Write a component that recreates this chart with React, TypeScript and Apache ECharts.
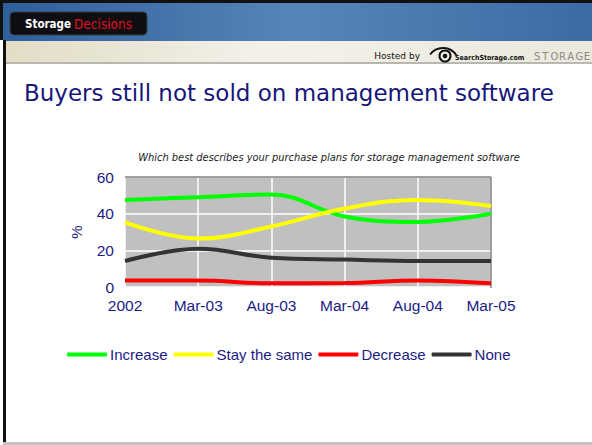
import React, { useEffect, useRef } from "react";
import * as echarts from "echarts";

const categories = ["2002", "Mar-03", "Aug-03", "Mar-04", "Aug-04", "Mar-05"];
const increase = [47.5, 49, 50.5, 38.5, 35.5, 40];
const staySame = [35.3, 26.4, 33, 42.8, 47.5, 44.2];
const decrease = [3.5, 3.5, 2, 2.2, 3.6, 2];
const none = [14.2, 20.8, 16, 15, 14.2, 14.2];
const yTicks = { min: 0, max: 60, interval: 20 };

const NAVY = "#1c1c84";

export default function App() {
  const ref = useRef<HTMLDivElement>(null);
  useEffect(() => {
    document.body.style.margin = "0";
    const chart = echarts.init(ref.current!, null, { renderer: "svg" });
    const storageLetters = "STORAGE".split("");
    const option: any = {
      animation: false,
      backgroundColor: "#ffffff",
      textStyle: { fontFamily: "Liberation Sans, Arial, sans-serif" },
      grid: {
        left: 125,
        top: 177,
        width: 366,
        height: 110,
        show: true,
        backgroundColor: "#c0c0c0",
        borderWidth: 0,
      },
      xAxis: {
        type: "category",
        data: categories,
        boundaryGap: false,
        axisLine: { show: false },
        axisTick: { show: false },
        axisLabel: { color: NAVY, fontSize: 15.5, margin: 10 },
        splitLine: { show: true, lineStyle: { color: "#ffffff", width: 1.5 } },
      },
      yAxis: {
        type: "value",
        min: yTicks.min,
        max: yTicks.max,
        interval: yTicks.interval,
        name: "%",
        nameLocation: "middle",
        nameGap: 41,
        nameRotate: 90,
        nameTextStyle: { color: NAVY, fontSize: 15 },
        axisLine: { show: false },
        axisTick: { show: false },
        axisLabel: { color: NAVY, fontSize: 15.5, margin: 11 },
        splitLine: { show: true, lineStyle: { color: "#ffffff", width: 1.5 } },
      },
      legend: {
        top: 347,
        left: 67,
        padding: 0,
        icon: "roundRect",
        itemWidth: 40,
        itemHeight: 4,
        itemGap: 6,
        textStyle: { color: NAVY, fontSize: 15, padding: [0, 0, 0, -2] },
        data: ["Increase", "Stay the same", "Decrease", "None"],
      },
      series: [
        { name: "Increase", data: increase, color: "#00ff00" },
        { name: "Stay the same", data: staySame, color: "#ffff00" },
        { name: "Decrease", data: decrease, color: "#ff0000" },
        { name: "None", data: none, color: "#333333" },
      ].map((s) => ({
        ...s,
        type: "line",
        smooth: 0.4,
        symbol: "none",
        lineStyle: { width: 4, color: s.color },
        itemStyle: { color: s.color },
      })),
      graphic: [
        // frame
        { type: "rect", shape: { x: 0, y: 0, width: 592, height: 3 }, style: { fill: "#111" }, silent: true },
        { type: "rect", shape: { x: 0, y: 0, width: 3, height: 40 }, style: { fill: "#111" }, silent: true },
        {
          type: "rect",
          shape: { x: 3, y: 3, width: 589, height: 38 },
          style: {
            fill: new echarts.graphic.LinearGradient(0, 0, 1, 0, [
              { offset: 0, color: "#2f5f9c" },
              { offset: 0.5, color: "#5785b8" },
              { offset: 1, color: "#3d6aa4" },
            ]),
          },
          silent: true,
        },
        {
          type: "rect",
          shape: { x: 3, y: 41, width: 589, height: 22 },
          style: {
            fill: new echarts.graphic.LinearGradient(0, 0, 1, 0, [
              { offset: 0, color: "#e2ddc6" },
              { offset: 0.45, color: "#f3f1ea" },
              { offset: 1, color: "#ebe8dc" },
            ]),
          },
          silent: true,
        },
        { type: "rect", shape: { x: 3, y: 62, width: 589, height: 2 }, style: { fill: "#b8b8b0" }, silent: true },
        { type: "rect", shape: { x: 3, y: 40, width: 3, height: 405 }, style: { fill: "#111" }, silent: true },
        { type: "rect", shape: { x: 3, y: 442, width: 589, height: 3 }, style: { fill: "#c4c4c4" }, silent: true },
        // logo box
        {
          type: "rect",
          shape: { x: 10, y: 12, width: 137, height: 23, r: 4 },
          style: { fill: "#0e0e12", stroke: "#3a3a44", lineWidth: 1 },
          silent: true,
        },
        {
          type: "text",
          x: 25,
          y: 24,
          style: {
            text: "Storage",
            fill: "#ffffff",
            font: "bold 11.5px 'DejaVu Sans Condensed', sans-serif",
            verticalAlign: "middle",
          },
          silent: true,
        },
        {
          type: "text",
          x: 74,
          y: 24,
          style: {
            text: "Decisions",
            fill: "#e01020",
            font: "13.5px 'DejaVu Sans Condensed', sans-serif",
            verticalAlign: "middle",
          },
          silent: true,
        },
        // hosted by
        {
          type: "text",
          x: 420,
          y: 56,
          style: {
            text: "Hosted by",
            fill: "#111",
            font: "9px 'DejaVu Sans', sans-serif",
            align: "right",
            verticalAlign: "middle",
          },
          silent: true,
        },
        {
          type: "arc",
          shape: { cx: 443, cy: 64, r: 16, startAngle: Math.PI * 1.2, endAngle: Math.PI * 1.82 },
          style: { stroke: "#111", lineWidth: 1.8, fill: "none" },
          silent: true,
        },
        { type: "circle", shape: { cx: 445, cy: 56, r: 5.5 }, style: { fill: "none", stroke: "#111", lineWidth: 2 }, silent: true },
        { type: "circle", shape: { cx: 445, cy: 56, r: 2.3 }, style: { fill: "#111" }, silent: true },
        {
          type: "text",
          x: 455,
          y: 58,
          style: {
            text: "SearchStorage.com",
            fill: "#111",
            font: "bold 7px 'DejaVu Sans Condensed', sans-serif",
            verticalAlign: "middle",
          },
          silent: true,
        },
        ...storageLetters.map((ch, i) => ({
          type: "text",
          x: 534 + i * 8.3,
          y: 56,
          style: {
            text: ch,
            fill: "#8a8a86",
            font: "10px 'DejaVu Sans', sans-serif",
            verticalAlign: "middle",
          },
          silent: true,
        })),
        // title
        {
          type: "text",
          x: 24,
          y: 93,
          style: {
            text: "Buyers still not sold on management software",
            fill: "#16167a",
            font: "23px 'DejaVu Sans', Verdana, sans-serif",
            verticalAlign: "middle",
          },
          silent: true,
        },
        // subtitle
        {
          type: "text",
          x: 329,
          y: 157,
          style: {
            text: "Which best describes your purchase plans for storage management software",
            fill: "#222",
            font: "italic 9.9px 'DejaVu Sans', Verdana, sans-serif",
            align: "center",
            verticalAlign: "middle",
          },
          silent: true,
        },
        // plot border (top & right darker)
        { type: "line", shape: { x1: 125, y1: 177, x2: 491, y2: 177 }, style: { stroke: "#808080", lineWidth: 1.5 }, silent: true, z: 1 },
        { type: "line", shape: { x1: 491, y1: 177, x2: 491, y2: 288 }, style: { stroke: "#808080", lineWidth: 1.5 }, silent: true, z: 1 },
      ],
    };
    chart.setOption(option);
    return () => chart.dispose();
  }, []);
  return <div ref={ref} style={{ width: 592, height: 445 }} />;
}
